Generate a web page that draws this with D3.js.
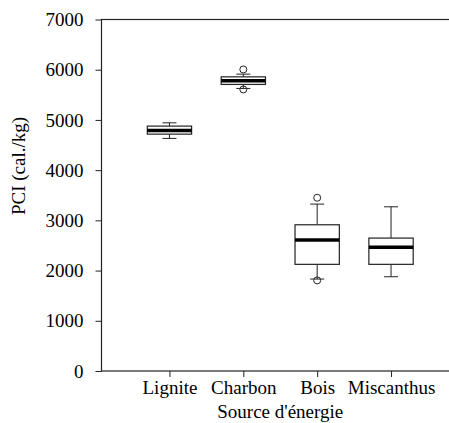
<!DOCTYPE html>
<html>
<head>
<meta charset="utf-8">
<script src="https://cdn.jsdelivr.net/npm/d3@7"></script>
<style>
  body { margin: 0; background: #fff; }
  svg { display: block; }
  text { font-family: 'Liberation Serif', 'Times New Roman', serif; }
</style>
</head>
<body>
<div id="chart"></div>
<script>
'use strict';
// data
var sources = ['Lignite', 'Charbon', 'Bois', 'Miscanthus'];
var whiskerLow  = [4632, 5627, 1831, 1877];
var q1          = [4717, 5707, 2124, 2124];
var medians     = [4791, 5778, 2607, 2462];
var q3          = [4877, 5858, 2912, 2647];
var whiskerHigh = [4942, 5912, 3324, 3270];
var outliers    = [[], [6005, 5607], [3450, 1805], []];
var yTicks = [0, 1000, 2000, 3000, 4000, 5000, 6000, 7000];

var W = 449, H = 423;
var margin = {top: 19.5, left: 101.5, bottom: 52, right: -10};
var width = W - margin.left - margin.right,
    height = H - margin.top - margin.bottom;
var fontSize = '19px';

var svg = d3.select('#chart').append('svg')
    .attr('width', W)
    .attr('height', H)
  .append('g')
    .attr('transform', 'translate(' + margin.left + ',' + margin.top + ')');

var x = d3.scalePoint()
    .domain(sources)
    .range([0, width])
    .padding(0.92);

var y = d3.scaleLinear()
    .domain([0, 7000])
    .range([height, 0]);

var step = x.step();
var boxW = step * 0.6,
    capW = 14;

// frame
svg.append('rect')
    .attr('x', 0).attr('y', 0)
    .attr('width', width).attr('height', height)
    .attr('fill', 'none')
    .attr('stroke', '#222')
    .attr('stroke-width', 1.2);

// axes
var yAxis = svg.append('g')
    .call(d3.axisLeft(y).tickValues(yTicks).tickSize(6).tickPadding(12).tickFormat(d3.format('d')));
var xAxis = svg.append('g')
    .attr('transform', 'translate(0,' + height + ')')
    .call(d3.axisBottom(x).tickSize(6).tickPadding(4));
[yAxis, xAxis].forEach(function(a) {
  a.select('.domain').remove();
  a.selectAll('line').attr('stroke', '#222');
  a.selectAll('text')
    .attr('fill', '#000')
    .style('font-size', fontSize)
    .style('font-family', "'Liberation Serif', serif");
});

// boxes
var data = sources.map(function(s, i) {
  return {name: s, lo: whiskerLow[i], q1: q1[i], med: medians[i], q3: q3[i], hi: whiskerHigh[i], out: outliers[i]};
});

var g = svg.selectAll('.box')
    .data(data)
  .enter().append('g')
    .attr('class', 'box')
    .attr('transform', function(d) { return 'translate(' + x(d.name) + ',0)'; });

g.append('line')
    .attr('x1', 0).attr('x2', 0)
    .attr('y1', function(d) { return y(d.hi); })
    .attr('y2', function(d) { return y(d.q3); })
    .attr('stroke', '#222');
g.append('line')
    .attr('x1', 0).attr('x2', 0)
    .attr('y1', function(d) { return y(d.q1); })
    .attr('y2', function(d) { return y(d.lo); })
    .attr('stroke', '#222');
g.selectAll('.cap')
    .data(function(d) { return [d.lo, d.hi]; })
  .enter().append('line')
    .attr('class', 'cap')
    .attr('x1', -capW / 2).attr('x2', capW / 2)
    .attr('y1', function(v) { return y(v); })
    .attr('y2', function(v) { return y(v); })
    .attr('stroke', '#222');
g.append('rect')
    .attr('x', -boxW / 2)
    .attr('width', boxW)
    .attr('y', function(d) { return y(d.q3); })
    .attr('height', function(d) { return y(d.q1) - y(d.q3); })
    .attr('fill', '#fff')
    .attr('stroke', '#222')
    .attr('stroke-width', 1.2);
g.append('line')
    .attr('x1', -boxW / 2).attr('x2', boxW / 2)
    .attr('y1', function(d) { return y(d.med); })
    .attr('y2', function(d) { return y(d.med); })
    .attr('stroke', '#000')
    .attr('stroke-width', 3.5);
g.selectAll('circle')
    .data(function(d) { return d.out; })
  .enter().append('circle')
    .attr('cx', 0)
    .attr('cy', function(v) { return y(v); })
    .attr('r', 3.5)
    .attr('fill', 'none')
    .attr('stroke', '#222');

// axis titles
svg.append('text')
    .attr('x', x('Charbon') + (x('Bois') - x('Charbon')) / 2)
    .attr('y', height + 47)
    .style('text-anchor', 'middle')
    .style('font-size', fontSize)
    .text("Source d'énergie");

svg.append('text')
    .attr('transform', 'rotate(-90)')
    .attr('x', -(166 - margin.top))
    .attr('y', 25 - margin.left)
    .style('text-anchor', 'middle')
    .style('font-size', fontSize)
    .text('PCI (cal./kg)');
</script>
</body>
</html>
